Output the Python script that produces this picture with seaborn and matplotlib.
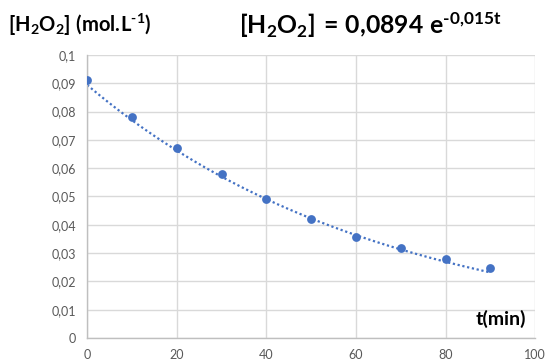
import numpy as np
import pandas as pd
import matplotlib
matplotlib.use("Agg")
import matplotlib.pyplot as plt
import seaborn as sns
from matplotlib.ticker import FuncFormatter

# data
t_min = [0, 10, 20, 30, 40, 50, 60, 70, 80, 90]
h2o2 = [0.0912, 0.0781, 0.0671, 0.0580, 0.0491, 0.0420, 0.0358, 0.0318, 0.0279, 0.0248]
fit_a = 0.0894
fit_k = 0.015
x_ticks = [0, 20, 40, 60, 80, 100]
y_ticks = [0, 0.01, 0.02, 0.03, 0.04, 0.05, 0.06, 0.07, 0.08, 0.09, 0.1]

sns.set_style("white")
plt.rcParams['font.family'] = ['Lato', 'DejaVu Sans']
plt.rcParams['mathtext.fontset'] = 'custom'
plt.rcParams['mathtext.rm'] = 'Lato:bold'
plt.rcParams['mathtext.bf'] = 'Lato:bold'
plt.rcParams['mathtext.it'] = 'Lato:bold'
plt.rcParams['mathtext.default'] = 'bf'

blue = "#4472C4"
grid_c = "#D9D9D9"
tick_c = "#595959"

fig = plt.figure(figsize=(5.45, 3.61), dpi=100)
ax = fig.add_axes([0.16, 0.0637, 0.822, 0.784])

df = pd.DataFrame({"t": t_min, "c": h2o2})
tt = np.linspace(t_min[0], t_min[-1], 200)
df_fit = pd.DataFrame({"t": tt, "c": fit_a * np.exp(-fit_k * tt)})

sns.lineplot(data=df_fit, x="t", y="c", ax=ax, color=blue, linestyle=(0, (1, 1.2)), linewidth=1.6, zorder=2)
sns.scatterplot(data=df, x="t", y="c", ax=ax, color=blue, s=40, edgecolor=blue, linewidth=0, zorder=3)

ax.set_xlim(0, 100)
ax.set_ylim(0, 0.1)
ax.set_xticks(x_ticks)
ax.set_yticks(y_ticks)
ax.yaxis.set_major_formatter(FuncFormatter(lambda v, p: ("%g" % round(v, 3)).replace(".", ",")))
ax.grid(True, color=grid_c, linewidth=1)
ax.set_axisbelow(True)
for s in ["top", "right"]:
    ax.spines[s].set_visible(False)
for s in ["left", "bottom"]:
    ax.spines[s].set_color("#BFBFBF")
    ax.spines[s].set_linewidth(1)
ax.tick_params(axis="both", length=0, labelsize=9, colors=tick_c, pad=8)
ax.set_xlabel("")
ax.set_ylabel("")

fig.text(0.015, 0.93, r"$[H_2O_2]\ (mol{.}\!L^{\text{-}1})$", fontsize=14.5, color="black", ha="left", va="center")
fig.text(0.68, 0.93, r"$[H_2O_2]\,=\,0{,}0894\ e^{\text{-}0{,}015t}$", fontsize=17.8, color="black", ha="center", va="center")
ax.text(0.98, 0.035, "t(min)", transform=ax.transAxes, fontsize=14, fontweight="bold", ha="right", va="bottom", color="black")

fig.savefig("out.png", dpi=100)
